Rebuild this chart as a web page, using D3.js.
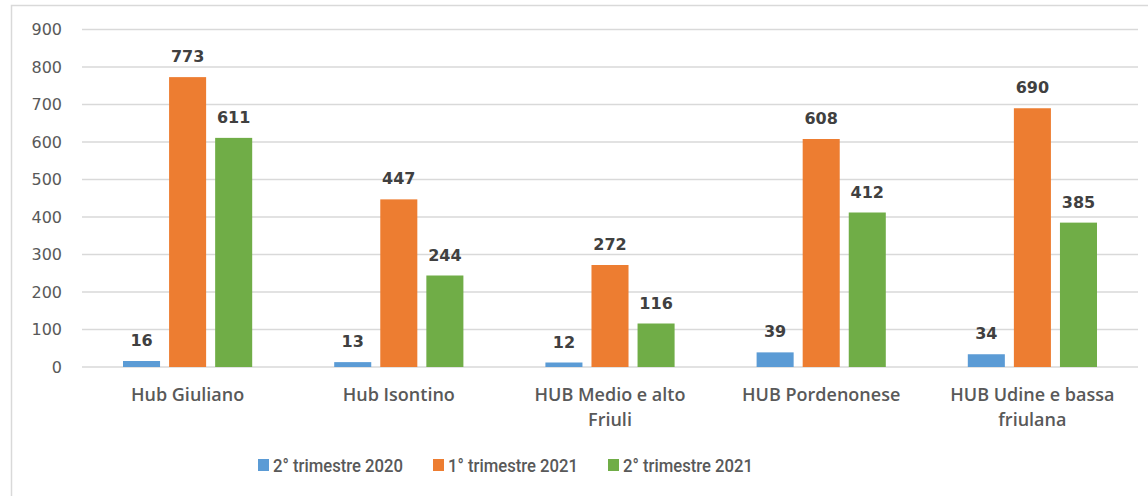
<!DOCTYPE html>
<html>
<head>
<meta charset="utf-8">
<script src="https://cdn.jsdelivr.net/npm/d3@7"></script>
<style>
  body { margin: 0; background: #fff; }
  svg { display: block; font-family: "Open Sans", "DejaVu Sans", sans-serif; }
</style>
</head>
<body>
<div id="chart"></div>
<script>
// data
var categories = ["Hub Giuliano", "Hub Isontino", "HUB Medio e alto Friuli", "HUB Pordenonese", "HUB Udine e bassa friulana"];
var seriesNames = ["2° trimestre 2020", "1° trimestre 2021", "2° trimestre 2021"];
var q2_2020 = [16, 13, 12, 39, 34];
var q1_2021 = [773, 447, 272, 608, 690];
var q2_2021 = [611, 244, 116, 412, 385];
var yTicks = [0, 100, 200, 300, 400, 500, 600, 700, 800, 900];
var colors = ["#5B9BD5", "#ED7D31", "#70AD47"];

var allSeries = [q2_2020, q1_2021, q2_2021];

var W = 1148, H = 496;
var plot = { left: 82, right: 1138, top: 29.5, bottom: 367 };

var svg = d3.select("#chart").append("svg")
  .attr("width", W).attr("height", H);

// chart frame
svg.append("rect")
  .attr("x", 11.5).attr("y", 5.5)
  .attr("width", W).attr("height", H)
  .attr("fill", "none").attr("stroke", "#d9d9d9").attr("stroke-width", 1.5);

var x0 = d3.scaleBand().domain(categories).range([plot.left, plot.right]).padding(0);
var x1 = d3.scaleBand().domain(seriesNames).range([0, x0.bandwidth()])
  .paddingInner(0.196).paddingOuter(0.89);
var y = d3.scaleLinear().domain([0, 900]).range([plot.bottom, plot.top]);

// gridlines
svg.append("g").selectAll("line")
  .data(yTicks).enter().append("line")
  .attr("x1", plot.left).attr("x2", plot.right)
  .attr("y1", function(d){ return y(d); })
  .attr("y2", function(d){ return y(d); })
  .attr("stroke", "#d9d9d9").attr("stroke-width", 1.5);

// y axis labels
var yAxis = svg.append("g")
  .attr("transform", "translate(62,0)")
  .call(d3.axisLeft(y).tickValues(yTicks).tickSize(0).tickPadding(0));
yAxis.select(".domain").remove();
yAxis.selectAll("text")
  .attr("fill", "#595959").style("font-size", "16px")
  .style("font-family", "\"DejaVu Sans\", sans-serif");

// bars
var rows = [];
categories.forEach(function(c, i){
  seriesNames.forEach(function(s, j){
    rows.push({ cat: c, ser: s, idx: j, value: allSeries[j][i] });
  });
});

svg.append("g").selectAll("rect")
  .data(rows).enter().append("rect")
  .attr("x", function(d){ return x0(d.cat) + x1(d.ser); })
  .attr("y", function(d){ return y(d.value); })
  .attr("width", x1.bandwidth())
  .attr("height", function(d){ return y(0) - y(d.value); })
  .attr("fill", function(d){ return colors[d.idx]; });

// value labels
svg.append("g").selectAll("text")
  .data(rows).enter().append("text")
  .attr("x", function(d){ return x0(d.cat) + x1(d.ser) + x1.bandwidth() / 2; })
  .attr("y", function(d){ return y(d.value) - 15; })
  .attr("text-anchor", "middle")
  .attr("fill", "#404040")
  .style("font-size", "16px").style("font-weight", "bold")
  .style("font-family", "\"DejaVu Sans\", sans-serif")
  .text(function(d){ return d.value; });

// category labels, wrapped
function wrapWords(text, maxW, ctx){
  var words = text.split(" "), lines = [], line = "";
  words.forEach(function(w){
    var t = line ? line + " " + w : w;
    if (ctx.measureText(t).width > maxW && line) { lines.push(line); line = w; }
    else line = t;
  });
  lines.push(line);
  return lines;
}
var ctx = document.createElement("canvas").getContext("2d");
ctx.font = "600 18px 'Open Sans'";

var catG = svg.append("g");
categories.forEach(function(c){
  var lines = wrapWords(c, 190, ctx);
  var t = catG.append("text")
    .attr("x", x0(c) + x0.bandwidth() / 2)
    .attr("y", 401)
    .attr("text-anchor", "middle")
    .attr("fill", "#595959")
    .style("font-size", "18px").style("font-weight", "600");
  lines.forEach(function(l, k){
    t.append("tspan").attr("x", x0(c) + x0.bandwidth() / 2)
      .attr("dy", k === 0 ? 0 : 25).text(l);
  });
});

// legend
var legendX = [258, 433, 608];
var leg = svg.append("g").selectAll("g")
  .data(seriesNames).enter().append("g")
  .attr("transform", function(d, i){ return "translate(" + legendX[i] + ",459)"; });
leg.append("rect").attr("width", 11).attr("height", 12).attr("y", 0)
  .attr("fill", function(d, i){ return colors[i]; });
leg.append("text").attr("x", 15).attr("y", 13)
  .attr("fill", "#595959").style("font-size", "19px").style("font-weight", "500")
  .style("font-family", "Roboto, sans-serif")
  .attr("textLength", 130).attr("lengthAdjust", "spacingAndGlyphs")
  .text(function(d){ return d; });
</script>
</body>
</html>
